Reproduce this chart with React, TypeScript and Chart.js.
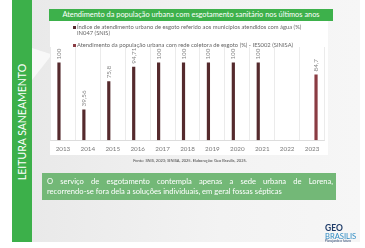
import React, { useEffect, useRef } from "react";
import { Chart, registerables } from "chart.js";

Chart.register(...registerables);

const years = ["2013", "2014", "2015", "2016", "2017", "2018", "2019", "2020", "2021", "2022", "2023"];
const snisValues: (number | null)[] = [100, 39.56, 75.8, 94.71, 100, 100, 100, 100, 100, null, null];
const sinisaValues: (number | null)[] = [null, null, null, null, null, null, null, null, null, null, 84.7];
const seriesNames = [
  "Índice de atendimento urbano de esgoto referido aos municípios atendidos com água (%) IN047 (SNIS)",
  "Atendimento da população urbana com rede coletora de esgoto (%) - IES002 (SINISA)",
];
const seriesColors = ["#552a2d", "#8a3c43"];
const yMin = 0;
const yMax = 120;

const title = "Atendimento da população urbana com esgotamento sanitário nos últimos anos";
const sourceText = "Fonte: SNIS, 2023; SINISA, 2025. Elaboração: Geo Brasilis, 2025.";
const sideText = "LEITURA SANEAMENTO";
const noteLine1 = "O serviço de esgotamento contempla apenas a sede urbana de Lorena,";
const noteLine2 = "recorrendo-se fora dela a soluções individuais, em geral fossas sépticas";

const FONT = "Lato, 'Open Sans', sans-serif";

const valueLabels = {
  id: "valueLabels",
  afterDatasetsDraw(chart: any) {
    const ctx = chart.ctx;
    chart.data.datasets.forEach((ds: any, di: number) => {
      const meta = chart.getDatasetMeta(di);
      meta.data.forEach((el: any, i: number) => {
        const v = ds.data[i];
        if (v === null || v === undefined) return;
        const txt = String(v).replace(".", ",");
        ctx.save();
        ctx.translate(el.x, el.y - 3);
        ctx.rotate(-Math.PI / 2);
        ctx.font = `6.3px ${FONT}`;
        ctx.fillStyle = "#858585";
        ctx.textAlign = "left";
        ctx.textBaseline = "middle";
        ctx.fillText(txt, 0, 0);
        ctx.restore();
      });
    });
  },
};

function BarChart() {
  const ref = useRef<HTMLCanvasElement | null>(null);
  useEffect(() => {
    if (!ref.current) return;
    const chart = new Chart(ref.current, {
      type: "bar",
      data: {
        labels: years,
        datasets: [
          { label: seriesNames[0], data: snisValues, backgroundColor: seriesColors[0], categoryPercentage: 0.64, barPercentage: 0.4 },
          { label: seriesNames[1], data: sinisaValues, backgroundColor: seriesColors[1], categoryPercentage: 0.64, barPercentage: 0.4 },
        ],
      },
      options: {
        animation: false,
        responsive: false,
        maintainAspectRatio: false,
        layout: { padding: { top: 26, left: 0.5, right: 3.5, bottom: 3.2 } },
        plugins: { legend: { display: false }, tooltip: { enabled: false } },
        scales: {
          x: {
            grid: { display: true, color: "#e6e6e6", lineWidth: 0.8, drawTicks: false, offset: true },
            border: { display: true, color: "#d4d4d4", width: 0.8 },
            ticks: { color: "#7a7a7a", font: { size: 6.3, family: FONT }, padding: 5, maxRotation: 0, autoSkip: false },
          },
          y: { display: false, min: yMin, max: yMax },
        },
      },
      plugins: [valueLabels],
    } as any);
    return () => chart.destroy();
  }, []);
  return (
    <canvas
      ref={ref}
      width={278}
      height={140}
      style={{ position: "absolute", left: 50, top: 21, width: 278, height: 140 }}
    />
  );
}

export default function App() {
  return (
    <div style={{ position: "absolute", left: 0, top: 0, width: 365, height: 248, background: "#ffffff", overflow: "hidden", fontFamily: FONT }}>
      <div style={{ position: "absolute", left: 12, top: 0, width: 348, height: 242, background: "linear-gradient(to right, #e8e8e8, #f3f3f3 60%, #f6f6f6)" }} />
      <div style={{ position: "absolute", left: 32, top: 48, width: 20, height: 32, background: "#fafafa", clipPath: "polygon(0 0, 100% 20%, 0 100%)", opacity: 0.9 }} />
      <div style={{ position: "absolute", left: 12, top: 0, width: 20, height: 242, background: "#3cb04a" }} />
      <div
        style={{
          position: "absolute",
          left: 22 - 70,
          top: 121.5 - 10,
          width: 140,
          height: 20,
          lineHeight: "20px",
          textAlign: "center",
          color: "#ffffff",
          fontSize: 10.5,
          transform: "rotate(-90deg)",
          whiteSpace: "nowrap",
        }}
      >
        {sideText}
      </div>
      <div style={{ position: "absolute", left: 50, top: 21, width: 278, height: 134, background: "#ffffff" }} />
      <div
        style={{
          position: "absolute",
          left: 49,
          top: 9,
          width: 284,
          height: 12,
          background: "#3db14b",
          color: "#ffffff",
          fontSize: 7.4,
          lineHeight: "12px",
          textAlign: "center",
          whiteSpace: "nowrap",
        }}
      >
        {title}
      </div>
      <BarChart />
      <div style={{ position: "absolute", left: 72.5, top: 25.5, width: 3.2, height: 3.2, background: seriesColors[0] }} />
      <div style={{ position: "absolute", left: 77, top: 23.5, width: 232, fontSize: 5.8, lineHeight: "6.6px", color: "#666666" }}>
        {seriesNames[0]}
      </div>
      <div style={{ position: "absolute", left: 72.5, top: 43.5, width: 3.2, height: 3.2, background: seriesColors[1] }} />
      <div style={{ position: "absolute", left: 77, top: 41.75, width: 240, fontSize: 5.8, lineHeight: "6.5px", color: "#666666", whiteSpace: "nowrap" }}>
        {seriesNames[1]}
      </div>
      <div style={{ position: "absolute", left: 90, top: 157.5, width: 200, textAlign: "center", fontSize: 4, lineHeight: "5px", color: "#3f3f3f", whiteSpace: "nowrap" }}>
        {sourceText}
      </div>
      <div
        style={{
          position: "absolute",
          left: 42,
          top: 173,
          width: 294,
          height: 27,
          background: "#73b877",
          color: "#ffffff",
          fontSize: 7.6,
          boxSizing: "border-box",
          padding: "2.5px 3px 0 5px",
        }}
      >
        <div style={{ textAlign: "justify", textAlignLast: "justify", lineHeight: "10.5px", whiteSpace: "nowrap" } as any}>{noteLine1}</div>
        <div style={{ lineHeight: "10.5px", whiteSpace: "nowrap" }}>{noteLine2}</div>
      </div>
      <div style={{ position: "absolute", left: 325, top: 223.5, fontSize: 8.5, fontWeight: 700, color: "#1d3a68", lineHeight: "9px" }}>GEO</div>
      <div style={{ position: "absolute", left: 325, top: 231.5, fontSize: 7.6, color: "#2f8cc4", lineHeight: "8px" }}>BRASILIS</div>
      <div style={{ position: "absolute", left: 325, top: 239.5, fontSize: 3, color: "#1d3a68", lineHeight: "3px", whiteSpace: "nowrap" }}>Planejando o futuro</div>
    </div>
  );
}
